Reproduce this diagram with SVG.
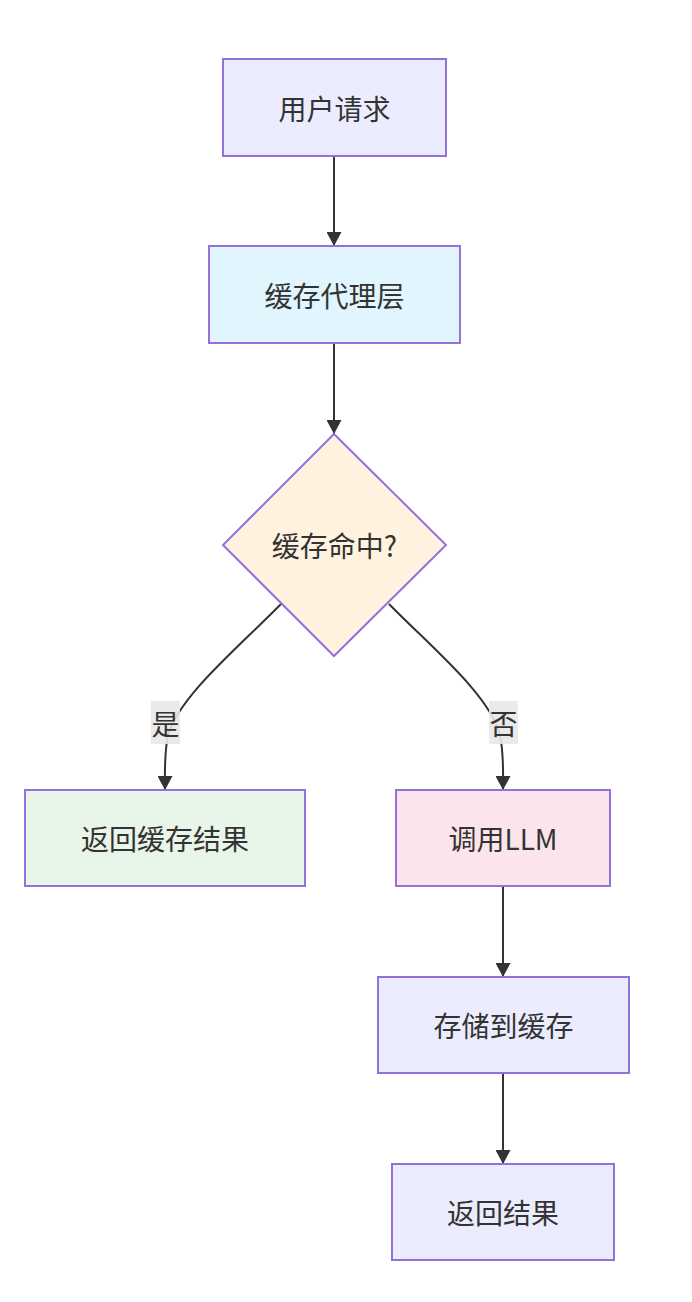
<svg xmlns="http://www.w3.org/2000/svg" width="692" height="1302" viewBox="0 0 692 1302">
<style>
.n{stroke:#9370db;stroke-width:2}
.t{font-family:"Noto Sans CJK SC","Noto Sans",sans-serif;font-size:28px;fill:#333;text-anchor:middle;dominant-baseline:central}
.e{fill:none;stroke:#333;stroke-width:2}
.lb{fill:#e8e8e8;opacity:0.9}
</style>
<defs>
<marker id="ah" viewBox="0 0 14 15" refX="14" refY="7.5" markerWidth="14" markerHeight="15" markerUnits="userSpaceOnUse" orient="auto">
<path d="M0,0 L14,7.5 L0,15 z" fill="#333"/>
</marker>
</defs>
<rect width="692" height="1302" fill="#fff"/>
<g id="edges">
<path class="e" d="M334,157 L334,246" marker-end="url(#ah)"/>
<path class="e" d="M334,344 L334,434" marker-end="url(#ah)"/>
<path class="e" d="M281,604 C240,646 180,695 168,735 C164,755 165,770 165,790" marker-end="url(#ah)"/>
<path class="e" d="M389,604 C430,646 490,695 500,735 C504,755 503,770 503,790" marker-end="url(#ah)"/>
<path class="e" d="M503,887 L503,977" marker-end="url(#ah)"/>
<path class="e" d="M503,1074 L503,1164" marker-end="url(#ah)"/>
</g>
<g id="edge-labels">
<g id="label-yes"><rect class="lb" x="151" y="701" width="29" height="43"/><text class="t" x="165.5" y="722.5">是</text></g>
<g id="label-no"><rect class="lb" x="489" y="701" width="29" height="43"/><text class="t" x="503.5" y="722.5">否</text></g>
</g>
<g id="A"><rect class="n" x="223" y="59" width="223" height="97" fill="#ececff"/><text class="t" x="334.5" y="107.5">用户请求</text></g>
<g id="B"><rect class="n" x="209" y="246" width="251" height="97" fill="#e1f5fe"/><text class="t" x="334.5" y="294.5">缓存代理层</text></g>
<g id="C"><polygon class="n" points="334,434 446,545 334,656 223,545" fill="#fff3e0"/><text class="t" x="334.5" y="545">缓存命中?</text></g>
<g id="D"><rect class="n" x="25" y="790" width="280" height="96" fill="#e8f5e9"/><text class="t" x="165" y="838">返回缓存结果</text></g>
<g id="E"><rect class="n" x="396" y="790" width="214" height="96" fill="#fce4ec"/><text class="t" x="503" y="838">调用LLM</text></g>
<g id="F"><rect class="n" x="378" y="977" width="251" height="96" fill="#ececff"/><text class="t" x="503.5" y="1025">存储到缓存</text></g>
<g id="G"><rect class="n" x="392" y="1164" width="222" height="96" fill="#ececff"/><text class="t" x="503" y="1212">返回结果</text></g>
</svg>
